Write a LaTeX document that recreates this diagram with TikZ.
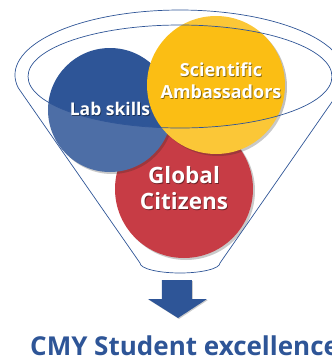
\documentclass[tikz,border=0pt]{standalone}
\usepackage{fontspec}
\setmainfont{Open Sans}
\usetikzlibrary{shadows}
\definecolor{cmyblue}{RGB}{46, 85, 151}
\definecolor{cmyyellow}{RGB}{251, 190, 20}
\definecolor{cmyred}{RGB}{190, 27, 37}
\definecolor{cmyline}{RGB}{47, 85, 151}

\begin{document}
\begin{tikzpicture}[x=1pt, y=-1pt,
  bubble/.style={circle, inner sep=0pt,
    drop shadow={shadow xshift=2pt, shadow yshift=-2pt, opacity=0.25, fill=black}},
  bubbletxt/.style={text=white, font=\bfseries, align=center},
  txtshadow/.style={text=black, opacity=0.45, font=\bfseries, align=center,
    xshift=0.8pt, yshift=-0.8pt},
  funnel/.style={draw=cmyline, line width=0.7pt}]
\useasboundingbox (0,0) rectangle (332,360);

% three circles, back to front
\node[bubble, fill=cmyred, minimum size=138pt] (globC) at (184,189) {};
\node[bubble, fill=cmyblue, minimum size=124pt] (labC) at (110,110) {};
\node[bubble, fill=cmyyellow, minimum size=138pt] (sciC) at (216,85) {};

% funnel rim and body
\coordinate (rimL) at (18.31,87.96);
\coordinate (neckR) at (220,263);
\fill[white, opacity=0.15, even odd rule]
  (rimL) arc[start angle=168.5, end angle=371.5, x radius=165, y radius=65]
  -- (neckR) arc[start angle=0, end angle=180, x radius=40, y radius=10] -- cycle
  (180,76.5) ellipse[x radius=152, y radius=51.5];
\draw[funnel]
  (rimL) arc[start angle=168.5, end angle=371.5, x radius=165, y radius=65]
  -- (neckR) arc[start angle=0, end angle=180, x radius=40, y radius=10] -- cycle;
\draw[funnel] (180,76.5) ellipse[x radius=152, y radius=51.5];

% labels
\node[txtshadow, font=\bfseries\fontsize{17.5}{21}\selectfont] at (110,109) {Lab skills};
\node[bubbletxt, font=\bfseries\fontsize{17.5}{21}\selectfont] (labT) at (110,109) {Lab skills};
\node[txtshadow, font=\bfseries\fontsize{18}{22}\selectfont] at (221,81) {Scientific\\Ambassadors};
\node[bubbletxt, font=\bfseries\fontsize{18}{22}\selectfont] (sciT) at (221,81) {Scientific\\Ambassadors};
\node[txtshadow, font=\bfseries\fontsize{22.5}{26}\selectfont] at (184,188) {Global\\Citizens};
\node[bubbletxt, font=\bfseries\fontsize{22.5}{26}\selectfont] (globT) at (184,188) {Global\\Citizens};

% block arrow
\fill[cmyblue, drop shadow={shadow xshift=1pt, shadow yshift=-1pt, opacity=0.2, fill=black}]
  (162,280) -- (192,280) -- (192,299) -- (207,299) -- (178,318)
  -- (148,299) -- (162,299) -- cycle;

\node[anchor=base west, text=cmyblue, font=\bfseries\fontsize{26}{30}\selectfont,
  inner sep=0pt] (result) at (30,355) {CMY Student excellence};
\end{tikzpicture}
\end{document}
